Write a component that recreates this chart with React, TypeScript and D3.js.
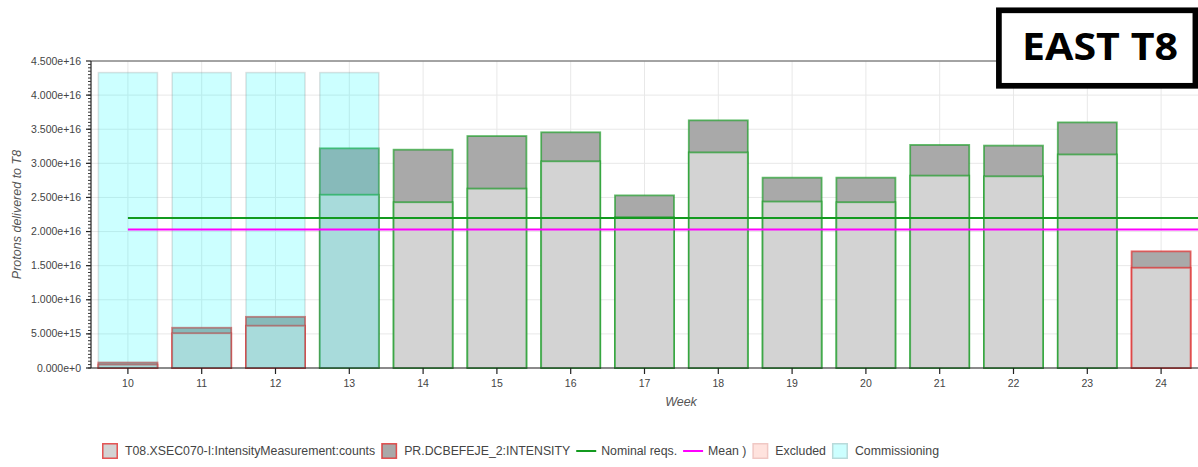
import { useEffect, useRef } from 'react';
import * as d3 from 'd3';

const WEEKS = [10, 11, 12, 13, 14, 15, 16, 17, 18, 19, 20, 21, 22, 23, 24];
// T08.XSEC070-I:IntensityMeasurement:counts (lower, light grey)
const T08 = [0.05e16, 0.51e16, 0.62e16, 2.54e16, 2.43e16, 2.63e16, 3.03e16, 2.21e16, 3.16e16, 2.44e16, 2.43e16, 2.82e16, 2.81e16, 3.13e16, 1.47e16];
// PR.DCBEFEJE_2:INTENSITY (full bar, dark grey)
const PR = [0.08e16, 0.59e16, 0.75e16, 3.22e16, 3.2e16, 3.4e16, 3.455e16, 2.53e16, 3.63e16, 2.79e16, 2.79e16, 3.27e16, 3.26e16, 3.6e16, 1.71e16];
const COMMISSIONING_WEEKS = [10, 11, 12, 13];
const COMMISSIONING_LEVEL = 4.33e16;
const NOMINAL = 2.2e16;
const MEAN = 2.03e16;
const Y_TICKS = [0, 0.5e16, 1e16, 1.5e16, 2e16, 2.5e16, 3e16, 3.5e16, 4e16, 4.5e16];
const Y_TICK_LABELS = ['0.000e+0', '5.000e+15', '1.000e+16', '1.500e+16', '2.000e+16', '2.500e+16', '3.000e+16', '3.500e+16', '4.000e+16', '4.500e+16'];

const GREEN = '#139a1f';
const RED = '#e02020';
const TXT = '#444';
const FONT = '"Liberation Sans", Arial, sans-serif';

export default function App() {
  const svgRef = useRef<SVGSVGElement>(null);

  useEffect(() => {
    if (!svgRef.current) return;
    const W = 1198, H = 467;
    const PAD = { t: 61, r: 0, b: 99, l: 91 };
    const svg = d3.select(svgRef.current);
    svg.selectAll('*').remove();
    svg.attr('width', W).attr('height', H).attr('viewBox', `0 0 ${W} ${H}`);

    const x = d3.scaleLinear().domain([9.5, 24.5]).range([PAD.l, W - PAD.r]);
    const y = d3.scaleLinear().domain([0, 4.5e16]).range([H - PAD.b, PAD.t]);
    const bw = x(10.4) - x(9.6);

    // Grid
    WEEKS.forEach(w => {
      svg.append('line')
        .attr('x1', x(w)).attr('x2', x(w)).attr('y1', PAD.t).attr('y2', y(0))
        .attr('stroke', '#e8e8e8').attr('stroke-width', 1);
    });
    Y_TICKS.forEach(t => {
      svg.append('line')
        .attr('x1', PAD.l).attr('x2', W).attr('y1', y(t)).attr('y2', y(t))
        .attr('stroke', '#e8e8e8').attr('stroke-width', 1);
    });

    const data = WEEKS.map((w, i) => ({ w, t08: T08[i], pr: PR[i] }));
    const outline = (d: typeof data[0]) => (d.pr >= NOMINAL ? GREEN : RED);

    // PR full bars
    svg.append('g').selectAll('rect').data(data).enter().append('rect')
      .attr('x', d => x(d.w) - bw / 2).attr('y', d => y(d.pr))
      .attr('width', bw).attr('height', d => y(0) - y(d.pr))
      .attr('fill', '#a9a9a9').attr('stroke', outline)
      .attr('stroke-opacity', 0.65).attr('stroke-width', 1.8);

    // T08 bars
    svg.append('g').selectAll('rect').data(data).enter().append('rect')
      .attr('x', d => x(d.w) - bw / 2).attr('y', d => y(d.t08))
      .attr('width', bw).attr('height', d => y(0) - y(d.t08))
      .attr('fill', '#d3d3d3').attr('stroke', outline)
      .attr('stroke-opacity', 0.65).attr('stroke-width', 1.8);

    // Commissioning
    svg.append('g').selectAll('rect').data(COMMISSIONING_WEEKS).enter().append('rect')
      .attr('x', d => x(d) - bw / 2).attr('y', y(COMMISSIONING_LEVEL))
      .attr('width', bw).attr('height', y(0) - y(COMMISSIONING_LEVEL))
      .attr('fill', 'cyan').attr('fill-opacity', 0.2)
      .attr('stroke', '#888').attr('stroke-opacity', 0.25).attr('stroke-width', 1.5);

    // Reference lines
    svg.append('line').attr('x1', x(10)).attr('x2', W).attr('y1', y(NOMINAL)).attr('y2', y(NOMINAL))
      .attr('stroke', GREEN).attr('stroke-width', 2);
    svg.append('line').attr('x1', x(10)).attr('x2', W).attr('y1', y(MEAN)).attr('y2', y(MEAN))
      .attr('stroke', '#ff00ff').attr('stroke-width', 2);

    // Frame top
    svg.append('line').attr('x1', PAD.l).attr('x2', W).attr('y1', PAD.t).attr('y2', PAD.t)
      .attr('stroke', '#555').attr('stroke-width', 1);

    // Y axis
    const yAxis = svg.append('g');
    yAxis.append('line').attr('x1', PAD.l).attr('x2', PAD.l).attr('y1', PAD.t).attr('y2', y(0))
      .attr('stroke', '#222').attr('stroke-width', 1.2);
    d3.range(0, 4.5e16 + 1, 0.05e16).forEach(v => {
      yAxis.append('line').attr('x1', PAD.l - 3).attr('x2', PAD.l).attr('y1', y(v)).attr('y2', y(v))
        .attr('stroke', '#333').attr('stroke-width', 1);
    });
    Y_TICKS.forEach((t, i) => {
      yAxis.append('line').attr('x1', PAD.l - 5).attr('x2', PAD.l).attr('y1', y(t)).attr('y2', y(t))
        .attr('stroke', '#222').attr('stroke-width', 1.2);
      yAxis.append('text').attr('x', PAD.l - 10).attr('y', y(t) + 3.5)
        .attr('text-anchor', 'end').attr('font-size', 10.5).attr('fill', TXT)
        .attr('font-family', FONT).text(Y_TICK_LABELS[i]);
    });
    svg.append('text')
      .attr('transform', `translate(21,${(PAD.t + y(0)) / 2}) rotate(-90)`)
      .attr('text-anchor', 'middle').attr('font-size', 12.5).attr('font-style', 'italic')
      .attr('fill', '#555').attr('font-family', FONT).text('Protons delivered to T8');

    // X axis
    const xAxis = svg.append('g');
    xAxis.append('line').attr('x1', PAD.l).attr('x2', W).attr('y1', y(0)).attr('y2', y(0))
      .attr('stroke', '#222').attr('stroke-width', 1.2);
    WEEKS.forEach(w => {
      xAxis.append('line').attr('x1', x(w)).attr('x2', x(w)).attr('y1', y(0)).attr('y2', y(0) + 6)
        .attr('stroke', '#222').attr('stroke-width', 1.2);
      xAxis.append('text').attr('x', x(w)).attr('y', y(0) + 19)
        .attr('text-anchor', 'middle').attr('font-size', 10.5).attr('fill', TXT)
        .attr('font-family', FONT).text(w);
    });
    svg.append('text').attr('x', 681).attr('y', 406)
      .attr('text-anchor', 'middle').attr('font-size', 12.5).attr('font-style', 'italic')
      .attr('fill', '#555').attr('font-family', FONT).text('Week');

    // Legend
    const legend = [
      { label: 'T08.XSEC070-I:IntensityMeasurement:counts', kind: 'box', fill: '#d3d3d3', stroke: RED, so: 0.75 },
      { label: 'PR.DCBEFEJE_2:INTENSITY', kind: 'box', fill: '#a9a9a9', stroke: RED, so: 0.75 },
      { label: 'Nominal reqs.', kind: 'line', fill: 'none', stroke: GREEN, so: 1 },
      { label: 'Mean )', kind: 'line', fill: 'none', stroke: '#ff00ff', so: 1 },
      { label: 'Excluded', kind: 'box', fill: '#ffe3de', stroke: '#f0c8c4', so: 1 },
      { label: 'Commissioning', kind: 'box', fill: '#ccffff', stroke: '#b8dada', so: 1 },
    ];
    const ly = 451;
    let lx = 102;
    const lg = svg.append('g');
    legend.forEach(item => {
      if (item.kind === 'box') {
        lg.append('rect').attr('x', lx + 0.75).attr('y', ly - 7.25).attr('width', 14.5).attr('height', 14.5)
          .attr('fill', item.fill).attr('stroke', item.stroke).attr('stroke-opacity', item.so).attr('stroke-width', 1.5);
        lx += 16 + 7;
      } else {
        lg.append('line').attr('x1', lx).attr('x2', lx + 20).attr('y1', ly).attr('y2', ly)
          .attr('stroke', item.stroke).attr('stroke-width', 2);
        lx += 20 + 5;
      }
      const t = lg.append('text').attr('x', lx).attr('y', ly + 4.3)
        .attr('font-size', 12.3).attr('fill', TXT).attr('font-family', FONT).text(item.label);
      const len = (t.node() as SVGTextElement).getComputedTextLength();
      lx += len + 6;
    });

    // Title box
    svg.append('rect').attr('x', 998.9).attr('y', 10.3).attr('width', 196.5).attr('height', 75.5)
      .attr('fill', '#fff').attr('stroke', '#000').attr('stroke-width', 5.7);
    svg.append('text').attr('x', 1022).attr('y', 60)
      .attr('font-size', 37).attr('font-weight', 700).attr('fill', '#000')
      .attr('font-family', '"Open Sans", "Liberation Sans", sans-serif')
      .attr('textLength', 156).attr('lengthAdjust', 'spacingAndGlyphs')
      .text('EAST T8');
  }, []);

  return (
    <div style={{ position: 'absolute', left: 0, top: 0, background: '#fff' }}>
      <svg ref={svgRef} style={{ display: 'block' }} />
    </div>
  );
}
